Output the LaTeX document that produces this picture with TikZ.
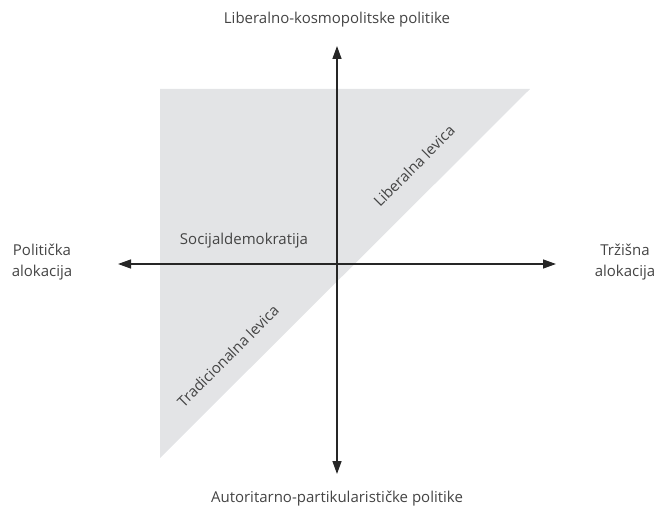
\documentclass[tikz,border=0pt]{standalone}
\usepackage{fontspec}
\setmainfont{Open Sans}
\usetikzlibrary{arrows.meta}
\definecolor{polje}{HTML}{E3E4E6}
\definecolor{tekst}{HTML}{444444}

\begin{document}
\begin{tikzpicture}[x=1pt, y=-1pt]
    \tikzstyle{every node}=[text=tekst, font=\fontsize{15}{21}\selectfont, inner sep=0pt]
    \tikzstyle{osa}=[line width=1.4pt, draw=black!85, {Triangle[length=13pt,width=9pt]}-{Triangle[length=13pt,width=9pt]}]
    \tikzstyle{koso}=[rotate=45, anchor=center]
    \useasboundingbox (0,0) rectangle (663,513);
    % polje
    \fill[polje] (160,89) -- (530,89) -- (160,458) -- cycle;
    % ose
    \coordinate (gore) at (337,46);
    \coordinate (dole) at (337,474);
    \coordinate (levo) at (118,264);
    \coordinate (desno) at (556,264);
    \draw[osa] (dole) -- (gore);
    \draw[osa] (levo) -- (desno);
    % natpisi
    \node (liberalno) at (337,20) {Liberalno-kosmopolitske politike};
    \node (autoritarno) at (337,499) {Autoritarno-partikularističke politike};
    \node[align=center] (politicka) at (42,262) {Politička\\alokacija};
    \node[align=center] (trzisna) at (625,262) {Tržišna\\alokacija};
    \node (socdem) at (244,241) {Socijaldemokratija};
    \node[koso] (liblevica) at (414,166) {Liberalna levica};
    \node[koso] (tradlevica) at (228,356) {Tradicionalna levica};
\end{tikzpicture}
\end{document}
